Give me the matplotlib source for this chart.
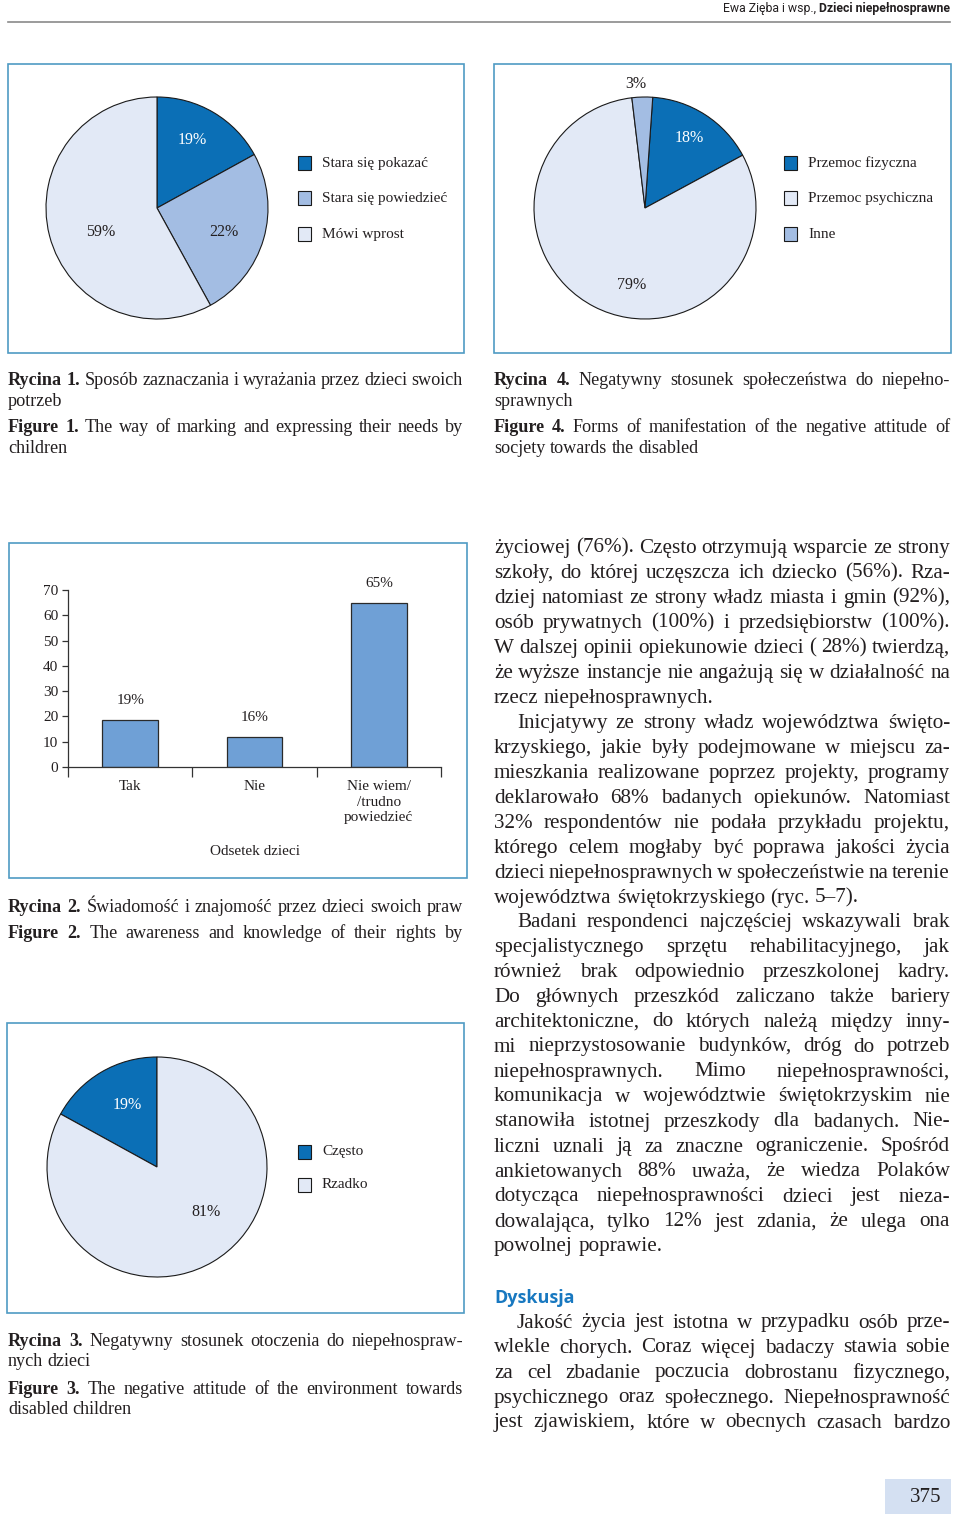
import matplotlib
matplotlib.use('Agg')
import matplotlib.pyplot as plt
from matplotlib.patches import Rectangle

# ---- data ----
fig1_labels = ['Stara się pokazać', 'Stara się powiedzieć', 'Mówi wprost']
fig1_shares = [17, 25, 58]          # wedge sizes as drawn
fig1_pct = ['19%', '22%', '59%']    # printed labels

fig4_labels = ['Przemoc fizyczna', 'Przemoc psychiczna', 'Inne']
fig4_shares = [16, 81, 3]
fig4_pct = ['18%', '79%', '3%']

fig3_labels = ['Często', 'Rzadko']
fig3_shares = [17, 83]
fig3_pct = ['19%', '81%']

fig2_cats = ['Tak', 'Nie', 'Nie wiem/\n/trudno\npowiedzieć']
fig2_values = [18.5, 12, 65]
fig2_pct = ['19%', '16%', '65%']
fig2_yticks = [0, 10, 20, 30, 40, 50, 60, 70]

# ---- styles ----
W, H = 960, 1523
SERIF = ['Liberation Serif', 'DejaVu Serif']
INK = '#231f20'
DARK = '#0b6fb6'
MID = '#a3bde3'
PALE = '#e2e9f6'
BAR = '#6fa0d6'
FRAME = '#4f9bc4'

fig = plt.figure(figsize=(W / 100, H / 100), dpi=100)
fig.patch.set_facecolor('white')
r = fig.canvas.get_renderer()

# full-page overlay in pixel units (y down)
page = fig.add_axes([0, 0, 1, 1])
page.set_xlim(0, W)
page.set_ylim(H, 0)
page.axis('off')


def px_rect(x, y, w, h):
    return [x / W, 1 - (y + h) / H, w / W, h / H]


def box(x0, y0, x1, y1):
    page.add_patch(Rectangle((x0, y0), x1 - x0, y1 - y0, fill=False,
                             edgecolor=FRAME, linewidth=1.2))


def word_widths(words, size, nbold):
    out = []
    for k, w in enumerate(words):
        t = page.text(0, 0, w, fontsize=size, family=SERIF,
                      fontweight='bold' if k < nbold else 'normal')
        out.append(t.get_window_extent(renderer=r).width)
        t.remove()
    return out


def fit_size(blocks, width, size, min_gap=0.2):
    # largest font size at which every justified line keeps a minimal gap
    best = size
    for lines, nbold, indent in blocks:
        for i, ln in enumerate(lines):
            words = ln.split(' ')
            ws = word_widths(words, size, nbold if i == 0 else 0)
            em = size * 100 / 72
            natural = sum(ws) + (len(words) - 1) * min_gap * em
            avail = width - (indent if i == 0 else 0)
            best = min(best, size * avail / natural)
    return best


def line_of_words(x0, x1, y, text, size, nbold=0, justify=True, indent=0):
    words = text.split(' ')
    objs = []
    for k, w in enumerate(words):
        t = page.text(0, y, w, fontsize=size, family=SERIF, color=INK,
                      fontweight='bold' if k < nbold else 'normal',
                      ha='left', va='center')
        objs.append(t)
    widths = [t.get_window_extent(renderer=r).width for t in objs]
    x = x0 + indent
    if justify and len(words) > 1:
        gap = (x1 - x - sum(widths)) / (len(words) - 1)
    else:
        gap = size * 100 / 72 * 0.25
    for t, w in zip(objs, widths):
        t.set_x(x)
        x += w + gap


def paragraph(x0, x1, y0, dy, lines, size, nbold=0, indent=0, last_full=False):
    for i, ln in enumerate(lines):
        last = i == len(lines) - 1 and not last_full
        line_of_words(x0, x1, y0 + i * dy, ln, size,
                      nbold=nbold if i == 0 else 0,
                      justify=not last, indent=indent if i == 0 else 0)


def pie_panel(cx, cy, rad, shares, colors, pcts, pct_xy, start, ccw):
    ax = fig.add_axes(px_rect(cx - rad - 3, cy - rad - 3, 2 * rad + 6, 2 * rad + 6))
    ax.pie(shares, colors=colors, startangle=start, counterclock=ccw,
           wedgeprops=dict(edgecolor='#1a1a1a', linewidth=0.8))
    lim = 1 + 3 / rad
    ax.set_xlim(-lim, lim)
    ax.set_ylim(-lim, lim)
    ax.set_aspect('equal')
    ax.axis('off')
    for txt, (x, y), c in zip(pcts, pct_xy, colors):
        ax.text(x, y, txt, fontsize=11.5, family=SERIF, ha='center', va='center',
                color='white' if c == DARK else INK)


def legend(x, ys, labels, colors):
    for y, lab, c in zip(ys, labels, colors):
        page.add_patch(Rectangle((x, y - 7), 13, 14, facecolor=c,
                                 edgecolor='#1a1a1a', linewidth=0.8))
        page.text(x + 24, y, lab, fontsize=11, family=SERIF, color=INK,
                  ha='left', va='center')


# ---- header ----
HFONT = ['Roboto', 'DejaVu Sans']
hb = page.text(950, 8, 'Dzieci niepełnosprawne', fontsize=8.8, family=HFONT,
               fontweight='bold', color=INK, ha='right', va='center')
hw = hb.get_window_extent(renderer=r).width
page.text(950 - hw, 8, 'Ewa Zięba i wsp., ', fontsize=8.8, family=HFONT,
          color=INK, ha='right', va='center')
page.plot([8, 950], [22, 22], color='#8a8a8a', linewidth=1.2)

# ---- figure 1 ----
box(8, 64, 464, 353)
pie_panel(157, 208, 111, fig1_shares, [DARK, MID, PALE], fig1_pct,
          [(0.32, 0.61), (0.60, -0.22), (-0.51, -0.22)], 90, False)
legend(298, [163, 198, 234], fig1_labels, [DARK, MID, PALE])

# ---- figure 4 ----
box(494, 64, 951, 353)
pie_panel(645, 208, 111, fig4_shares, [DARK, PALE, MID], fig4_pct,
          [(0.40, 0.63), (-0.12, -0.69), (-0.08, 1.12)], 86, False)
legend(784, [163, 198, 234], fig4_labels, [DARK, PALE, MID])

# ---- captions ----
cap1a = ['Rycina 1. Sposób zaznaczania i wyrażania przez dzieci swoich', 'potrzeb']
cap1b = ['Figure 1. The way of marking and expressing their needs by', 'children']
cap4a = ['Rycina 4. Negatywny stosunek społeczeństwa do niepełno-', 'sprawnych']
cap4b = ['Figure 4. Forms of manifestation of the negative attitude of',
         'socjety towards the disabled']
cap2a = ['Rycina 2. Świadomość i znajomość przez dzieci swoich praw']
cap2b = ['Figure 2. The awareness and knowledge of their rights by']
cap3a = ['Rycina 3. Negatywny stosunek otoczenia do niepełnospraw-', 'nych dzieci']
cap3b = ['Figure 3. The negative attitude of the environment towards',
         'disabled children']
CAP = fit_size([(c[:1], 2, 0) for c in (cap1a, cap1b, cap4a, cap4b, cap2a, cap2b,
                                         cap3a, cap3b)], 455, 13.5, min_gap=0.22)

paragraph(8, 463, 380, 21, cap1a, CAP, nbold=2)
paragraph(8, 463, 427, 21, cap1b, CAP, nbold=2)
paragraph(494, 950, 380, 21, cap4a, CAP, nbold=2)
paragraph(494, 950, 427, 21, cap4b, CAP, nbold=2)

# ---- figure 2 (bars) ----
box(9, 543, 467, 878)
ax = fig.add_axes(px_rect(68, 590, 373, 177))
ax.set_facecolor('none')
xs = list(range(len(fig2_cats)))
bars = ax.bar(xs, fig2_values, width=0.45, color=BAR, edgecolor='#2a2a2a', linewidth=0.9)
for b, lab in zip(bars, fig2_pct):
    ax.annotate(lab, (b.get_x() + b.get_width() / 2, b.get_height()),
                xytext=(0, 14), textcoords='offset points', ha='center', va='center',
                fontsize=11, family=SERIF, color=INK)
ax.set_xlim(-0.5, len(fig2_cats) - 0.5)
ax.set_ylim(0, 70)
ax.set_yticks(fig2_yticks)
ax.set_yticklabels([str(v) for v in fig2_yticks], fontsize=11, family=SERIF, color=INK)
ax.set_xticks([i - 0.5 for i in range(len(fig2_cats) + 1)])
ax.set_xticklabels([])
ax.set_xticks(xs, minor=True)
ax.set_xticklabels(fig2_cats, minor=True, fontsize=11, family=SERIF, color=INK)
for t in ax.get_xticklabels(minor=True):
    t.set_linespacing(1.3)
ax.tick_params(axis='x', which='major', length=7, width=0.9, direction='out', color='#333333')
ax.tick_params(axis='x', which='minor', length=0, pad=9)
ax.tick_params(axis='y', length=4, width=0.9, direction='out', color='#333333', pad=3)
for s in ['top', 'right']:
    ax.spines[s].set_visible(False)
for s in ['left', 'bottom']:
    ax.spines[s].set_color('#333333')
    ax.spines[s].set_linewidth(0.9)
ax.set_xlabel('Odsetek dzieci', fontsize=11, family=SERIF, color=INK)
ax.xaxis.set_label_coords(0.5, -0.44)

paragraph(8, 463, 907, 26, cap2a, CAP, nbold=2, last_full=True)
paragraph(8, 463, 933, 26, cap2b, CAP, nbold=2, last_full=True)

# ---- figure 3 ----
box(7, 1023, 464, 1313)
pie_panel(157, 1167, 110, fig3_shares, [DARK, PALE], fig3_pct,
          [(-0.27, 0.56), (0.45, -0.41)], 90, True)
legend(298, [1152, 1185], fig3_labels, [DARK, PALE])

paragraph(8, 463, 1341, 21, cap3a, CAP, nbold=2)
paragraph(8, 463, 1389, 21, cap3b, CAP, nbold=2)

# ---- body text ----
p1 = ['życiowej (76%). Często otrzymują wsparcie ze strony',
      'szkoły, do której uczęszcza ich dziecko (56%). Rza-',
      'dziej natomiast ze strony władz miasta i gmin (92%),',
      'osób prywatnych (100%) i przedsiębiorstw (100%).',
      'W dalszej opinii opiekunowie dzieci ( 28%) twierdzą,',
      'że wyższe instancje nie angażują się w działalność na',
      'rzecz niepełnosprawnych.']
p2 = ['Inicjatywy ze strony władz województwa święto-',
      'krzyskiego, jakie były podejmowane w miejscu za-',
      'mieszkania realizowane poprzez projekty, programy',
      'deklarowało 68% badanych opiekunów. Natomiast',
      '32% respondentów nie podała przykładu projektu,',
      'którego celem mogłaby być poprawa jakości życia',
      'dzieci niepełnosprawnych w społeczeństwie na terenie',
      'województwa świętokrzyskiego (ryc. 5–7).']
p3 = ['Badani respondenci najczęściej wskazywali brak',
      'specjalistycznego sprzętu rehabilitacyjnego, jak',
      'również brak odpowiednio przeszkolonej kadry.',
      'Do głównych przeszkód zaliczano także bariery',
      'architektoniczne, do których należą między inny-',
      'mi nieprzystosowanie budynków, dróg do potrzeb',
      'niepełnosprawnych. Mimo niepełnosprawności,',
      'komunikacja w województwie świętokrzyskim nie',
      'stanowiła istotnej przeszkody dla badanych. Nie-',
      'liczni uznali ją za znaczne ograniczenie. Spośród',
      'ankietowanych 88% uważa, że wiedza Polaków',
      'dotycząca niepełnosprawności dzieci jest nieza-',
      'dowalająca, tylko 12% jest zdania, że ulega ona',
      'powolnej poprawie.']
p4 = ['Jakość życia jest istotna w przypadku osób prze-',
      'wlekle chorych. Coraz więcej badaczy stawia sobie',
      'za cel zbadanie poczucia dobrostanu fizycznego,',
      'psychicznego oraz społecznego. Niepełnosprawność',
      'jest zjawiskiem, które w obecnych czasach bardzo']
BODY = fit_size([(p1[:-1], 0, 0), (p2[:-1], 0, 23), (p3[:-1], 0, 23), (p4, 0, 23)],
                456, 16.5, min_gap=0.2)

paragraph(494, 950, 548, 25, p1, BODY)
paragraph(494, 950, 723, 25, p2, BODY, indent=23)
paragraph(494, 950, 922, 25, p3, BODY, indent=23)

page.text(494, 1298, 'Dyskusja', fontsize=13, family=['Open Sans', 'DejaVu Sans'],
          fontweight='bold', color='#1878c0', ha='left', va='center')
paragraph(494, 950, 1323, 25, p4, BODY, indent=23, last_full=True)

# ---- page number ----
page.add_patch(Rectangle((885, 1479), 66, 35, facecolor='#d4e0f2', edgecolor='none'))
page.text(941, 1497, '375', fontsize=15, family=SERIF, color=INK, ha='right', va='center')

fig.savefig('out.png', dpi=100)
